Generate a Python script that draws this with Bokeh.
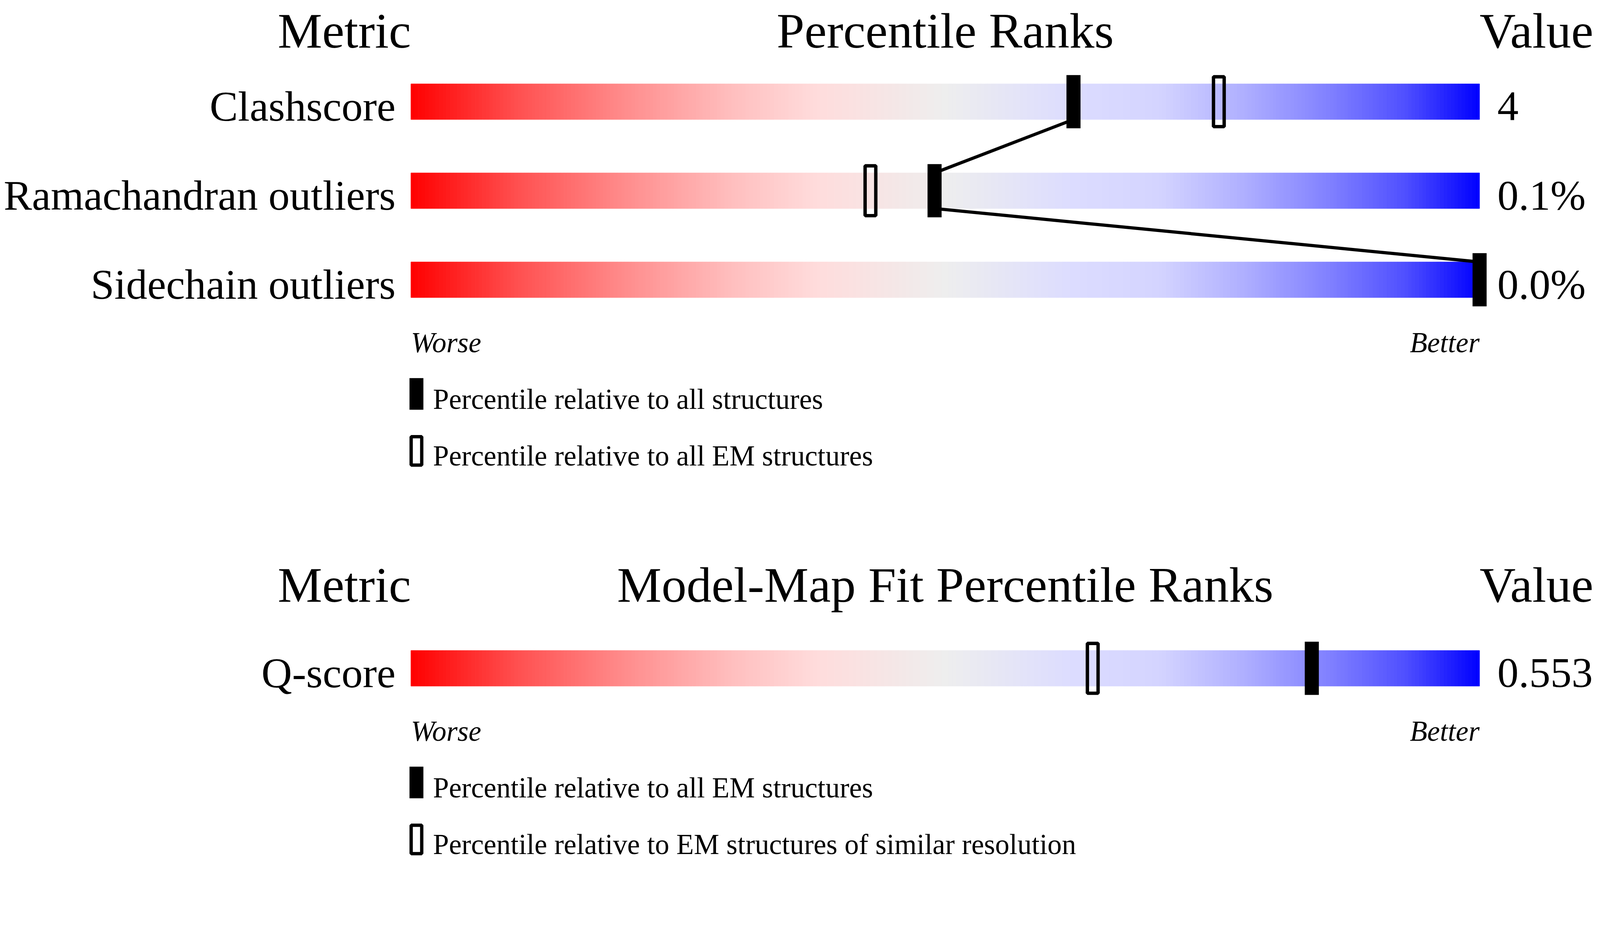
import numpy as np
from bokeh.plotting import figure
from bokeh.models import Range1d
from bokeh.core.properties import value
from bokeh.embed import file_html
from bokeh.resources import INLINE

# --- data: validation percentile panel ---
metrics = ["Clashscore", "Ramachandran outliers", "Sidechain outliers"]
metric_values = ["4", "0.1%", "0.0%"]
pct_all = [62.0, 49.0, 100.0]          # relative to all structures (filled)
pct_em = [75.6, 43.0, np.nan]          # relative to all EM structures (open)
legend_labels = ["Percentile relative to all structures",
                 "Percentile relative to all EM structures"]

# --- data: model-map fit panel ---
fit_metrics = ["Q-score"]
fit_values = ["0.553"]
fit_pct_all_em = [84.3]                # relative to all EM structures (filled)
fit_pct_similar = [63.8]               # relative to similar resolution (open)
fit_legend_labels = ["Percentile relative to all EM structures",
                     "Percentile relative to EM structures of similar resolution"]

# slider colours, red (worse) -> grey -> blue (better)
GRAD_POS = [0.0, 0.10, 0.20, 0.30, 0.38, 0.50, 0.62, 0.70, 0.78, 0.86, 0.93, 1.0]
GRAD_RGB = [(255, 0, 0), (255, 80, 80), (255, 140, 140), (255, 190, 190),
            (255, 220, 220), (238, 238, 238), (220, 220, 255), (212, 212, 255),
            (175, 175, 255), (128, 128, 255), (80, 80, 255), (0, 0, 255)]

FONT = value("Liberation Serif")
REF_W, REF_H = 4485, 2402      # layout is worked out in these units
FIG_W = 4090                   # the page is shown a bit zoomed, keep it inside
S = FIG_W / REF_W              # screen px per layout unit
EXTRA_H = 30                   # a little room under the last legend line
FIG_H = int(round((REF_H + EXTRA_H) * S))
BAR_X0, PX_PER_PCT = 1153, 30  # slider starts here, 100% = 3000 units
BASE_FIX = 0.31                # bokeh puts the alphabetic baseline this much (em) low

HEAD, LABEL, SMALL = 140.3, 119.0, 80.2   # font sizes in layout units


def px(x_ref):
    # layout position -> percentile units of the x scale
    return (x_ref - BAR_X0) / PX_PER_PCT


def fs(size):
    return "%.1fpx" % (size * S)


def base(y, size):
    return y - BASE_FIX * size


def grad_colors(t):
    rgb = np.array(GRAD_RGB, dtype=float)
    r = np.interp(t, GRAD_POS, rgb[:, 0])
    g = np.interp(t, GRAD_POS, rgb[:, 1])
    b = np.interp(t, GRAD_POS, rgb[:, 2])
    return ["#%02x%02x%02x" % (int(round(a)), int(round(c)), int(round(d))) for a, c, d in zip(r, g, b)]


def draw_panel(p, title, names, vals, filled, opened, legend, top, head_drop=0):
    n = len(names)
    centers = [top + 190 + 250 * i for i in range(n)]

    # gradient sliders made of thin slices
    edges = np.linspace(0, 100, 301)
    cols = grad_colors((edges[:-1] + edges[1:]) / 200.0)
    left, right, tops, bots, fc = [], [], [], [], []
    for c in centers:
        left += list(edges[:-1])
        right += list(edges[1:])
        tops += [c - 50] * len(cols)
        bots += [c + 50] * len(cols)
        fc += cols
    p.quad(left=left, right=right, top=tops, bottom=bots, fill_color=fc, line_color=fc, line_width=1)

    # lines joining the filled markers of consecutive rows
    if n > 1:
        p.segment(x0=filled[:-1], y0=[c + 50 for c in centers[:-1]],
                  x1=filled[1:], y1=[c - 50 for c in centers[1:]],
                  line_color="black", line_width=9 * S)

    # markers
    p.rect(x=filled, y=centers, width=39.5 / PX_PER_PCT, height=149.5,
           fill_color="black", line_color=None)
    p.rect(x=opened, y=centers, width=30 / PX_PER_PCT, height=140,
           fill_color=None, line_color="black", line_width=9.5 * S)

    # headers (the top one is dropped a little so it is not clipped)
    p.text(x=[0, 50, 100], y=[base(top + head_drop, HEAD)] * 3, text=["Metric", title, "Value"],
           text_align=["right", "center", "left"], text_baseline="alphabetic",
           text_font=FONT, text_font_size=fs(HEAD), text_color="black")

    # row labels and values
    ly0 = [base(c + 50, LABEL) for c in centers]
    p.text(x=[px(1110)] * n, y=ly0, text=names,
           text_align="right", text_baseline="alphabetic",
           text_font=FONT, text_font_size=fs(LABEL), text_color="black")
    p.text(x=[px(4203)] * n, y=ly0, text=vals,
           text_align="left", text_baseline="alphabetic",
           text_font=FONT, text_font_size=fs(LABEL), text_color="black")

    # worse / better
    wy = centers[-1] + 50 + 151
    p.text(x=[0, 100], y=[base(wy, SMALL)] * 2, text=["Worse", "Better"],
           text_align=["left", "right"], text_baseline="alphabetic",
           text_font=FONT, text_font_style="italic", text_font_size=fs(SMALL),
           text_color="black")

    # legend
    ly = [wy + 75 + 160 * j for j in range(2)]
    p.rect(x=[px(1168.5)], y=[ly[0] + 44.5], width=39 / PX_PER_PCT, height=89,
           fill_color="black", line_color=None)
    p.rect(x=[px(1168.5)], y=[ly[1] + 44.5], width=29.7 / PX_PER_PCT, height=79.7,
           fill_color=None, line_color="black", line_width=9.3 * S)
    p.text(x=[px(1215)] * 2, y=[base(y + 84, SMALL) for y in ly], text=legend,
           text_align="left", text_baseline="alphabetic",
           text_font=FONT, text_font_size=fs(SMALL), text_color="black")


p = figure(width=FIG_W, height=FIG_H,
           x_range=Range1d(px(0), px(REF_W)), y_range=Range1d(REF_H + EXTRA_H, 0),
           output_backend="svg", toolbar_location=None,
           x_axis_location=None, y_axis_location=None, min_border=0)
p.grid.visible = False
p.outline_line_color = None
p.background_fill_color = "white"

draw_panel(p, "Percentile Ranks", metrics, metric_values, pct_all, pct_em, legend_labels, 95, head_drop=35)
draw_panel(p, "Model-Map Fit Percentile Ranks", fit_metrics, fit_values,
           fit_pct_all_em, fit_pct_similar, fit_legend_labels, 1686)

open("out.html", "w").write(file_html(p, INLINE))
